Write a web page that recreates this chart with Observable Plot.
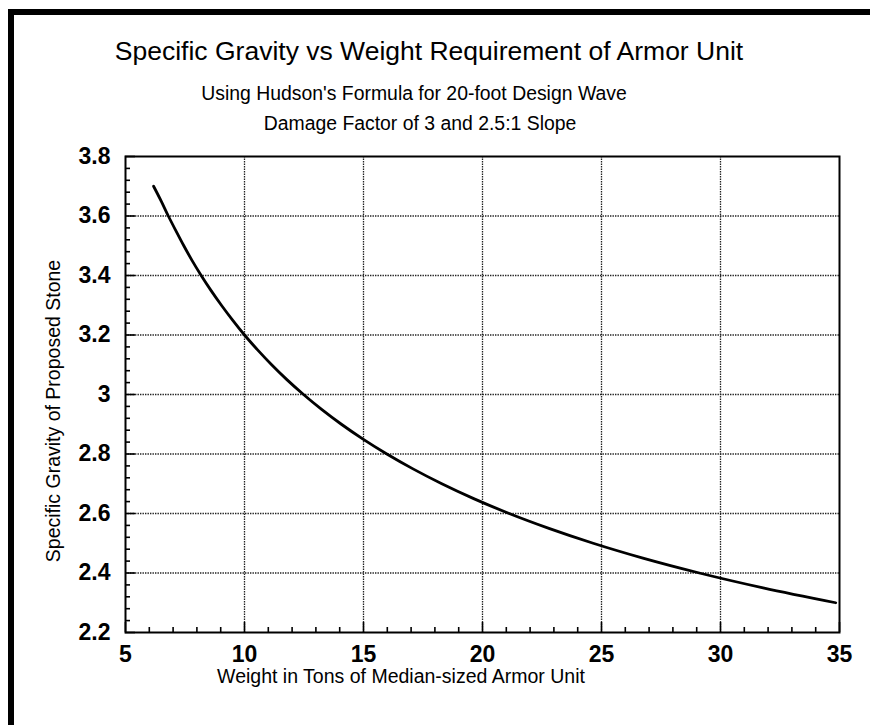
<!DOCTYPE html>
<html>
<head>
<meta charset="utf-8">
<script src="https://cdn.jsdelivr.net/npm/d3@7"></script>
<script src="https://cdn.jsdelivr.net/npm/@observablehq/plot@0.6"></script>
<style>
  html, body { margin: 0; padding: 0; background: #fff; }
  #wrap { position: relative; width: 870px; height: 725px; overflow: hidden; background: #fff;
          font-family: "Liberation Sans", Arial, sans-serif; color: #000; }
  .bar { position: absolute; background: #000; }
  .t { position: absolute; white-space: nowrap; line-height: 1; transform: translateX(-50%); }
  #chart { position: absolute; left: 0; top: 140px; }
</style>
</head>
<body>
<div id="wrap">
  <div class="bar" style="left:8px;top:9px;width:862px;height:6px"></div>
  <div class="bar" style="left:8px;top:9px;width:6px;height:716px"></div>
  <div class="t" id="title" style="left:429px;top:37.6px;font-size:26.5px">Specific Gravity vs Weight Requirement of Armor Unit</div>
  <div class="t" id="sub1" style="left:414px;top:83.6px;font-size:19.4px">Using Hudson's Formula for 20-foot Design Wave</div>
  <div class="t" id="sub2" style="left:420px;top:113.6px;font-size:19.4px">Damage Factor of 3 and 2.5:1 Slope</div>
  <div class="t" id="xlabel" style="left:401px;top:668.6px;font-size:19.5px;line-height:0.8">Weight in Tons of Median-sized Armor Unit</div>
  <div class="t" id="ylabel" style="left:54px;top:411px;font-size:19.5px;transform:translate(-50%,-50%) rotate(-90deg)">Specific Gravity of Proposed Stone</div>
  <div id="chart"></div>
</div>
<script>
// Curve: weight (tons) vs specific gravity
const weight  = [6.18, 6.50, 6.80, 7.12, 7.45, 7.80, 8.18, 8.59, 9.03, 9.50, 10.00, 10.55, 11.14, 11.78, 12.48, 13.24, 14.07, 14.98, 15.98, 17.08, 18.29, 19.63, 21.12, 22.79, 24.65, 26.74, 29.11, 31.79, 34.84];
const gravity = [3.70, 3.65, 3.60, 3.55, 3.50, 3.45, 3.40, 3.35, 3.30, 3.25, 3.20, 3.15, 3.10, 3.05, 3.00, 2.95, 2.90, 2.85, 2.80, 2.75, 2.70, 2.65, 2.60, 2.55, 2.50, 2.45, 2.40, 2.35, 2.30];

// Axes
const xTicks = [5, 10, 15, 20, 25, 30, 35];
const xTickLabels = ["5", "10", "15", "20", "25", "30", "35"];
const yTicks = [2.2, 2.4, 2.6, 2.8, 3.0, 3.2, 3.4, 3.6, 3.8];
const yTickLabels = ["2.2", "2.4", "2.6", "2.8", "3", "3.2", "3.4", "3.6", "3.8"];
const xGrid = [10, 15, 20, 25, 30];
const yGrid = [2.4, 2.6, 2.8, 3.0, 3.2, 3.4, 3.6];
const xMinor = [6, 7, 8, 9, 11, 12, 13, 14, 16, 17, 18, 19, 21, 22, 23, 24, 26, 27, 28, 29, 31, 32, 33, 34];
const yMinor = [2.24, 2.28, 2.32, 2.36, 2.44, 2.48, 2.52, 2.56, 2.64, 2.68, 2.72, 2.76, 2.84, 2.88, 2.92, 2.96,
                3.04, 3.08, 3.12, 3.16, 3.24, 3.28, 3.32, 3.36, 3.44, 3.48, 3.52, 3.56, 3.64, 3.68, 3.72, 3.76];

const curve = weight.map((w, i) => ({w, g: gravity[i]}));

const W = 870, H = 585, mT = 16, mB = 93, mL = 125, mR = 31;
const innerW = W - mL - mR, innerH = H - mT - mB;
const gridStyle = {stroke: "#222", strokeWidth: 1.3, strokeDasharray: "1.4,1.1"};

const chart = Plot.plot({
  width: W, height: H,
  marginTop: mT, marginBottom: mB, marginLeft: mL, marginRight: mR,
  style: {fontFamily: "'Liberation Sans', Arial, sans-serif", background: "transparent", overflow: "visible", color: "#000"},
  x: {domain: [5, 35], label: null},
  y: {domain: [2.2, 3.8], label: null},
  marks: [
    Plot.ruleX(xGrid, {x: d => d, ...gridStyle}),
    Plot.ruleY(yGrid, {y: d => d, ...gridStyle}),
    Plot.ruleX(xMinor, {x: d => d, insetTop: innerH - 5, stroke: "#000", strokeWidth: 1.6}),
    Plot.ruleX(xTicks, {x: d => d, insetTop: innerH - 10, stroke: "#000", strokeWidth: 1.6}),
    Plot.ruleY(yMinor, {y: d => d, insetRight: innerW - 5, stroke: "#000", strokeWidth: 1.6}),
    Plot.ruleY(yTicks, {y: d => d, insetRight: innerW - 10, stroke: "#000", strokeWidth: 1.6}),
    Plot.line(curve, {x: "w", y: "g", stroke: "#000", strokeWidth: 2.8, curve: "monotone-x"}),
    Plot.frame({stroke: "#000", strokeWidth: 2}),
    Plot.axisX(xTicks, {tickSize: 0, tickPadding: 13, fontSize: 23, fontWeight: "bold", label: null,
      tickFormat: d => xTickLabels[xTicks.indexOf(d)]}),
    Plot.axisY(yTicks, {tickSize: 0, tickPadding: 15, fontSize: 23, fontWeight: "bold", label: null,
      tickFormat: d => yTickLabels[yTicks.indexOf(d)]})
  ]
});
document.getElementById("chart").appendChild(chart);
</script>
</body>
</html>
